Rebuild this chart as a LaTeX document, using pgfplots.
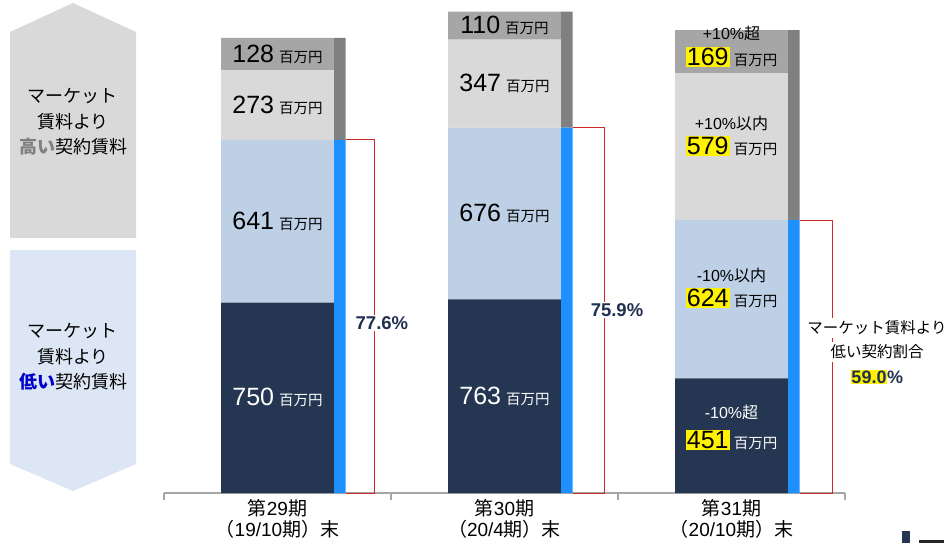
\documentclass[border=0pt]{standalone}
\usepackage{pgfplots}
\pgfplotsset{compat=1.18}
\usepackage{fontspec}
\setmainfont{Liberation Sans}
\newfontfamily\jp{Noto Sans CJK JP}
\definecolor{navy}{HTML}{243651}
\definecolor{lblue}{HTML}{BED0E6}
\definecolor{lgray}{HTML}{D9D9D9}
\definecolor{mgray}{HTML}{A6A6A6}
\definecolor{dgray}{HTML}{808080}
\definecolor{sblue}{HTML}{1E90FF}
\definecolor{bred}{HTML}{D02828}
\definecolor{ptext}{HTML}{1F3050}
\definecolor{arrowblue}{HTML}{DCE6F4}
\definecolor{lowblue}{HTML}{0000CC}
\definecolor{axgray}{HTML}{A6A6A6}

\newcommand{\un}{{\fontsize{14.5}{14.5}\selectfont\jp 百万円}}
\newcommand{\nm}[1]{{\fontsize{25}{25}\selectfont #1}}
\newcommand{\hl}[1]{{\setlength{\fboxsep}{1.2pt}\colorbox{yellow}{\color{black}\nm{#1}}}}
\newcommand{\dsc}[1]{{\fontsize{16}{16}\selectfont #1}}

\begin{document}
\begin{tikzpicture}[x=1pt,y=1pt]
\path[use as bounding box] (0,0) rectangle (950,-543);
% left side arrows
\fill[lgray] (10,-238) -- (10,-32) -- (73,-3) -- (136,-32) -- (136,-238) -- cycle;
\fill[arrowblue] (10,-250) -- (136,-250) -- (136,-464) -- (73,-491) -- (10,-464) -- cycle;
\node[align=center, font=\jp\fontsize{18}{25.5}\selectfont] at (73,-122) {マーケット\\賃料より\\{\color{dgray}\bfseries 高い}契約賃料};
\node[align=center, font=\jp\fontsize{18}{25.5}\selectfont] at (73,-357) {マーケット\\賃料より\\{\color{lowblue}\bfseries 低い}契約賃料};
% logo fragment
\fill[navy] (902,-531) rectangle (910,-543);
\fill[black!85] (919,-540) rectangle (944,-543);

% main stacked bars
\begin{axis}[at={(164pt,-493pt)}, anchor=south west, scale only axis,
  width=681pt, height=493pt, xmin=-0.5, xmax=2.5, ymin=0, ymax=1941.6,
  ybar stacked, bar width=113pt, clip=false,
  axis y line=none, axis x line*=bottom,
  axis line style={draw=axgray, line width=1.4pt},
  xtick={0,1,2},
  xticklabels={{{\jp 第}29{\jp 期}\\{\jp （}19/10{\jp 期）末}},
               {{\jp 第}30{\jp 期}\\{\jp （}20/4{\jp 期）末}},
               {{\jp 第}31{\jp 期}\\{\jp （}20/10{\jp 期）末}}},
  xticklabel style={align=center, font=\fontsize{19}{21.5}\selectfont, inner sep=1pt, yshift=-5pt},
  major tick length=0pt,
  extra x ticks={-0.5,0.5,1.5,2.5}, extra x tick labels={},
  extra x tick style={major tick length=7pt, tick align=outside,
    tick style={draw=axgray, line width=1.4pt}},
]
\addplot[fill=navy, draw=none] coordinates {(0,750) (1,763) (2,451)};
\addplot[fill=lblue, draw=none] coordinates {(0,641) (1,676) (2,624)};
\addplot[fill=lgray, draw=none] coordinates {(0,273) (1,347) (2,579)};
\addplot[fill=mgray, draw=none] coordinates {(0,128) (1,110) (2,169)};
\end{axis}

% thin side bars
\begin{axis}[at={(164pt,-493pt)}, anchor=south west, scale only axis,
  width=681pt, height=493pt, xmin=-0.5, xmax=2.5, ymin=0, ymax=1941.6,
  ybar stacked, bar width=11.5pt, hide axis, clip=false]
\addplot[fill=sblue, draw=none, bar shift=62.25pt] coordinates {(0,1391) (1,1439) (2,1075)};
\addplot[fill=dgray, draw=none, bar shift=62.25pt] coordinates {(0,401) (1,457) (2,748)};
\end{axis}

% brackets, shares and labels
\begin{axis}[at={(164pt,-493pt)}, anchor=south west, scale only axis,
  width=681pt, height=493pt, xmin=-0.5, xmax=2.5, ymin=0, ymax=1941.6,
  hide axis, clip=false]
\addplot[bred, line width=1pt, no marks] coordinates {(0.2996,1391) (0.4251,1391) (0.4251,0) (0.2996,0)};
\addplot[bred, line width=1pt, no marks] coordinates {(1.2996,1439) (1.4427,1439) (1.4427,0) (1.2996,0)};
\addplot[bred, line width=1pt, no marks] coordinates {(2.2996,1075) (2.4427,1075) (2.4427,0) (2.2996,0)};
\node[fill=white, inner sep=1.5pt, text=ptext, font=\bfseries\fontsize{18.5}{18.5}\selectfont] at (axis cs:0.460,669.5) {77.6\%};
\node[fill=white, inner sep=1.5pt, text=ptext, font=\bfseries\fontsize{18.5}{18.5}\selectfont] at (axis cs:1.4956,720.7) {75.9\%};
\node[fill=white, inner sep=3pt, font=\jp\fontsize{15.5}{15.5}\selectfont] at (axis cs:2.641,649.8) {マーケット賃料より};
\node[fill=white, inner sep=3pt, font=\jp\fontsize{15.5}{15.5}\selectfont] at (axis cs:2.641,555.3) {低い契約割合};
\node[fill=white, inner sep=3pt, text=ptext, font=\bfseries\fontsize{18}{18}\selectfont] at (axis cs:2.641,456.9) {{\setlength{\fboxsep}{0.5pt}\colorbox{yellow}{59.0}}\%};
% labels bar 1
\node[text=white] at (axis cs:0,375) {\nm{750}\hspace{5pt}\un};
\node at (axis cs:0,1070.5) {\nm{641}\hspace{5pt}\un};
\node at (axis cs:0,1527.5) {\nm{273}\hspace{5pt}\un};
\node at (axis cs:0,1728) {\nm{128}\hspace{5pt}\un};
% labels bar 2
\node[text=white] at (axis cs:1,381.5) {\nm{763}\hspace{5pt}\un};
\node at (axis cs:1,1101) {\nm{676}\hspace{5pt}\un};
\node at (axis cs:1,1612.5) {\nm{347}\hspace{5pt}\un};
\node at (axis cs:1,1841) {\nm{110}\hspace{5pt}\un};
% labels bar 3
\node[text=white] at (axis cs:2,319) {\dsc{-10\%{\jp 超}}};
\node[text=white] at (axis cs:2,208.7) {\hl{451}\hspace{4pt}\un};
\node at (axis cs:2,858.6) {\dsc{-10\%{\jp 以内}}};
\node at (axis cs:2,768) {\hl{624}\hspace{4pt}\un};
\node at (axis cs:2,1457) {\dsc{+10\%{\jp 以内}}};
\node at (axis cs:2,1366.6) {\hl{579}\hspace{4pt}\un};
\node at (axis cs:2,1811.7) {\dsc{+10\%{\jp 超}}};
\node at (axis cs:2,1717) {\hl{169}\hspace{4pt}\un};
\end{axis}
\end{tikzpicture}
\end{document}
